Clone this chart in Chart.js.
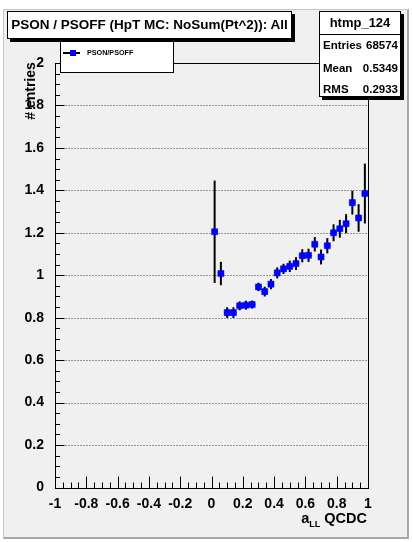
<!DOCTYPE html>
<html>
<head>
<meta charset="utf-8">
<script src="https://cdn.jsdelivr.net/npm/chart.js@4"></script>
<style>
  html, body { margin: 0; padding: 0; background: #ffffff; }
  #wrap { position: relative; width: 413px; height: 542px; overflow: hidden;
          font-family: "Liberation Sans", Arial, Helvetica, sans-serif; font-weight: bold; color: #000; }
  #pad { position: absolute; left: 3px; top: 9px; width: 406px; height: 530px; box-sizing: border-box;
         background: #f0f0f0; border-top: 1px solid #c8c8c8; border-left: 1px solid #c8c8c8;
         border-right: 2px solid #a8a8a8; border-bottom: 2px solid #a8a8a8; }
  #chart { position: absolute; left: 0; top: 0; }
  .box { position: absolute; box-sizing: border-box; background: #ffffff; border: 1px solid #000; }
  .shadow { box-shadow: 3px 3px 0 #000; }
  #titleBox { left: 7px; top: 11px; width: 285px; height: 28px; font-size: 13.5px;
              line-height: 26px; text-align: center; white-space: nowrap; z-index: 5; }
  #legendBox { left: 60px; top: 34px; width: 114px; height: 39px; z-index: 4; }
  #legLine { position: absolute; left: 63px; top: 52px; width: 17px; height: 1.5px; background: #000; z-index: 6; }
  #legMark { position: absolute; left: 69.5px; top: 50px; width: 6px; height: 6px; background: #0000ff; z-index: 7; }
  #legText { position: absolute; left: 87px; top: 47.5px; font-size: 7.2px; line-height: 9px; z-index: 6; white-space: nowrap; }
  #statsBox { left: 319px; top: 11px; width: 82px; height: 86px; z-index: 5; }
  #statsTitle { position: absolute; left: 0; top: 0; width: 80px; height: 22px; line-height: 22px;
                text-align: center; font-size: 13px; border-bottom: 1px solid #000; }
  .srow { position: absolute; left: 3px; width: 75px; height: 14px; line-height: 14px; font-size: 11.5px; white-space: nowrap; }
  .srow .v { position: absolute; right: 0; top: 0; }
  #yTitle { position: absolute; left: -10px; top: 82px; width: 80px; height: 18px; line-height: 18px;
            font-size: 14px; text-align: center; transform: rotate(-90deg); white-space: nowrap; z-index: 3; }
  #xTitle { position: absolute; left: 0; top: 509px; width: 367px; text-align: right; font-size: 14.5px;
            line-height: 18px; white-space: nowrap; z-index: 3; }
  #xTitle sub { font-size: 9px; vertical-align: -4px; }
</style>
</head>
<body>
<div id="wrap">
  <div id="pad"></div>
  <canvas id="chart" width="413" height="542"></canvas>
  <div id="yTitle"># entries</div>
  <div id="xTitle">a<sub>LL</sub> QCDC</div>
  <div id="legendBox" class="box"></div>
  <div id="legLine"></div>
  <div id="legMark"></div>
  <div id="legText"></div>
  <div id="titleBox" class="box shadow"></div>
  <div id="statsBox" class="box shadow">
    <div id="statsTitle"></div>
  </div>
</div>
<script>
// Histogram ratio PSON/PSOFF versus a_LL (QCDC), 25 bins of width 0.04 on [0, 1]
const histTitle = "PSON / PSOFF (HpT MC: NoSum(Pt^2)): All";
const histName = "htmp_124";
const legendLabel = "PSON/PSOFF";
const statsLabels = ["Entries", "Mean", "RMS"];
const statsValues = ["68574", "0.5349", "0.2933"];

const binCenters = [0.02, 0.06, 0.10, 0.14, 0.18, 0.22, 0.26, 0.30, 0.34, 0.38,
                    0.42, 0.46, 0.50, 0.54, 0.58, 0.62, 0.66, 0.70, 0.74, 0.78,
                    0.82, 0.86, 0.90, 0.94, 0.98];
const binHalfWidth = 0.02;
const ratio = [1.205, 1.008, 0.824, 0.824, 0.856, 0.859, 0.862, 0.945, 0.923, 0.958,
               1.011, 1.030, 1.042, 1.055, 1.092, 1.094, 1.146, 1.086, 1.139, 1.200,
               1.219, 1.243, 1.342, 1.270, 1.385];
const ratioErr = [0.241, 0.055, 0.025, 0.025, 0.021, 0.021, 0.019, 0.020, 0.023, 0.024,
                  0.026, 0.024, 0.027, 0.030, 0.031, 0.031, 0.034, 0.035, 0.036, 0.040,
                  0.042, 0.045, 0.056, 0.065, 0.141];

const xTicks = [-1, -0.8, -0.6, -0.4, -0.2, 0, 0.2, 0.4, 0.6, 0.8, 1];
const xTickLabels = ["-1", "-0.8", "-0.6", "-0.4", "-0.2", "0", "0.2", "0.4", "0.6", "0.8", "1"];
const yTicks = [0, 0.2, 0.4, 0.6, 0.8, 1, 1.2, 1.4, 1.6, 1.8, 2];
const yTickLabels = ["0", "0.2", "0.4", "0.6", "0.8", "1", "1.2", "1.4", "1.6", "1.8", "2"];

// text boxes
document.getElementById("titleBox").textContent = histTitle;
document.getElementById("statsTitle").textContent = histName;
document.getElementById("legText").textContent = legendLabel;
const rowTops = [37, 60, 81];
const statsBox = document.getElementById("statsBox");
statsLabels.forEach((lab, i) => {
  const row = document.createElement("div");
  row.className = "srow";
  row.style.top = (rowTops[i] - 11) + "px";
  row.textContent = lab;
  const v = document.createElement("span");
  v.className = "v";
  v.textContent = statsValues[i];
  row.appendChild(v);
  statsBox.appendChild(row);
});

const FONT = "'Liberation Sans', Arial, Helvetica, sans-serif";

// frame, dotted grid, inward ticks and error bars
const rootFrame = {
  id: "rootFrame",
  beforeDatasetsDraw(chart) {
    const ctx = chart.ctx;
    const xs = chart.scales.x, ys = chart.scales.y;
    const { left, right, top, bottom } = chart.chartArea;
    const L = Math.round(left) + 0.5, R = Math.round(right) + 0.5;
    const T = Math.round(top) + 0.5, B = Math.round(bottom) + 0.5;
    ctx.save();

    // dotted horizontal grid
    ctx.strokeStyle = "#3a3a3a";
    ctx.lineWidth = 1;
    ctx.setLineDash([1, 2]);
    yTicks.forEach(v => {
      if (v <= ys.min || v >= ys.max) return;
      const py = Math.round(ys.getPixelForValue(v)) + 0.5;
      ctx.beginPath(); ctx.moveTo(L + 1, py); ctx.lineTo(R - 1, py); ctx.stroke();
    });
    ctx.setLineDash([]);

    // frame
    ctx.strokeStyle = "#000";
    ctx.lineWidth = 1;
    ctx.strokeRect(L, T, R - L, B - T);

    // x ticks (pointing up into the frame)
    ctx.beginPath();
    xTicks.forEach((v, i) => {
      const px = Math.round(xs.getPixelForValue(v)) + 0.5;
      ctx.moveTo(px, B); ctx.lineTo(px, B - 12);
      if (i < xTicks.length - 1) {
        const step = (xTicks[i + 1] - v) / 4;
        for (let k = 1; k < 4; k++) {
          const mx = Math.round(xs.getPixelForValue(v + k * step)) + 0.5;
          ctx.moveTo(mx, B); ctx.lineTo(mx, B - 6);
        }
      }
    });
    // y ticks (pointing right into the frame)
    yTicks.forEach((v, i) => {
      const py = Math.round(ys.getPixelForValue(v)) + 0.5;
      ctx.moveTo(L, py); ctx.lineTo(L + 9, py);
      if (i < yTicks.length - 1) {
        const step = (yTicks[i + 1] - v) / 4;
        for (let k = 1; k < 4; k++) {
          const my = Math.round(ys.getPixelForValue(v + k * step)) + 0.5;
          ctx.moveTo(L, my); ctx.lineTo(L + 4.5, my);
        }
      }
    });
    ctx.stroke();

    // error bars
    ctx.strokeStyle = "#000";
    binCenters.forEach((c, i) => {
      const px = xs.getPixelForValue(c);
      ctx.lineWidth = 2;
      ctx.beginPath();
      ctx.moveTo(px, ys.getPixelForValue(ratio[i] - ratioErr[i]));
      ctx.lineTo(px, ys.getPixelForValue(ratio[i] + ratioErr[i]));
      ctx.stroke();
      ctx.lineWidth = 1;
      ctx.beginPath();
      const py = ys.getPixelForValue(ratio[i]);
      ctx.moveTo(xs.getPixelForValue(c - binHalfWidth), py);
      ctx.lineTo(xs.getPixelForValue(c + binHalfWidth), py);
      ctx.stroke();
    });
    ctx.restore();
  }
};

new Chart(document.getElementById("chart"), {
  type: "scatter",
  data: {
    datasets: [{
      label: legendLabel,
      data: binCenters.map((c, i) => ({ x: c, y: ratio[i] })),
      pointStyle: "rect",
      pointRadius: 4.3,
      pointHoverRadius: 4.3,
      backgroundColor: "#0000ff",
      borderColor: "#0000ff",
      borderWidth: 0.5
    }]
  },
  options: {
    responsive: false,
    animation: false,
    devicePixelRatio: 1,
    events: [],
    layout: { padding: { left: 0, right: 45, top: 63, bottom: 0 } },
    plugins: { legend: { display: false }, tooltip: { enabled: false }, title: { display: false } },
    scales: {
      x: {
        type: "linear", min: -1, max: 1,
        grid: { display: false }, border: { display: false },
        afterBuildTicks: a => { a.ticks = xTicks.map(v => ({ value: v })); },
        afterFit: a => { a.height = 542 - 487.5; },
        ticks: {
          autoSkip: false, maxRotation: 0, padding: 0, color: "#000",
          font: { family: FONT, size: 14, weight: "bold" },
          callback: (v, i) => xTickLabels[i]
        }
      },
      y: {
        type: "linear", min: 0, max: 2,
        grid: { display: false }, border: { display: false },
        afterBuildTicks: a => { a.ticks = yTicks.map(v => ({ value: v })); },
        afterFit: a => { a.width = 55; },
        ticks: {
          autoSkip: false, padding: 3, color: "#000",
          font: { family: FONT, size: 14, weight: "bold" },
          callback: (v, i) => yTickLabels[i]
        }
      }
    }
  },
  plugins: [rootFrame]
});
</script>
</body>
</html>
